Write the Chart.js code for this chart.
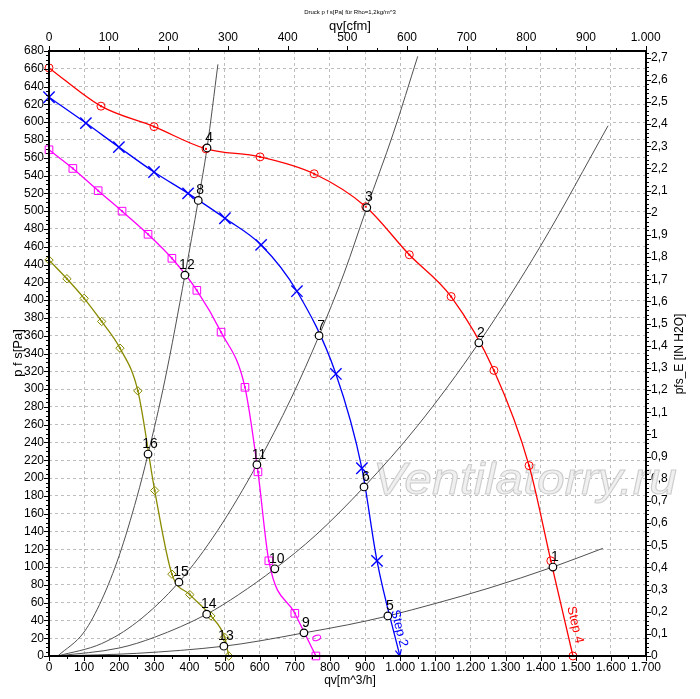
<!DOCTYPE html>
<html><head><meta charset="utf-8">
<script src="https://cdn.jsdelivr.net/npm/chart.js@4.4.1/dist/chart.umd.min.js"></script>
<style>html,body{margin:0;padding:0;background:#fff;overflow:hidden}#wrap{width:700px;height:699px;position:relative}</style>
</head><body><div id="wrap"><canvas id="c"></canvas></div>
<script>
// ---------- texts ----------
const chartTitle = 'Druck p f s[Pa] für Rho=1,2kg/m^3';
const xTitle = 'qv[m^3/h]';
const xTopTitle = 'qv[cfm]';
const yTitle = 'p f s[Pa]';
const yRightTitle = 'pfs_E [IN H2O]';
const watermark = 'Ventilatorry.ru';

// ---------- fan curves (qv m^3/h, p Pa) ----------
const step4Q = [0, 148, 299, 447, 601, 755, 902, 1026, 1145, 1267, 1367, 1429, 1492];
const step4P = [661, 618, 595, 570, 561, 542, 505, 451, 404, 321, 214, 107, 0];
const step2Q = [0, 105, 199, 299, 396, 501, 604, 706, 817, 891, 934, 999];
const step2P = [628, 599, 572, 544, 520, 492, 462, 410, 317, 211, 107, 0];
const step0Q = [0, 68, 140, 208, 282, 350, 421, 490, 558, 595, 626, 700, 760];
const step0P = [569, 548, 523, 500, 474, 447, 411, 364, 302, 207, 107, 48, 0];
const stepMinQ = [0, 51, 100, 150, 202, 253, 301, 350, 401, 461, 500, 512];
const stepMinP = [445, 424, 402, 376, 346, 298, 186, 92, 69, 45, 21, 0];

// ---------- system curves ----------
const sysAQ = [25, 100, 150, 200, 250, 282, 330, 387, 425, 450, 481];
const sysAP = [0, 27, 63, 113, 178, 227, 310, 428, 512, 571, 665];
const sysBQ = [25, 150, 250, 370, 480, 592, 690, 769, 840, 905, 980, 1050];
const sysBP = [0, 14, 38, 83, 141, 215, 290, 360, 430, 504, 587, 674];
const sysCQ = [25, 200, 300, 449, 540, 643, 760, 897, 1050, 1224, 1400, 1592];
const sysCP = [0, 9, 21, 47, 69, 98, 136, 190, 259, 352, 461, 596];
const sysDQ = [25, 250, 498, 600, 726, 850, 965, 1100, 1250, 1435, 1577];
const sysDP = [0, 3, 11, 17, 26, 35, 45, 59, 76, 100, 121];

// ---------- operating points ----------
const opLabels = ['1','2','3','4','5','6','7','8','9','10','11','12','13','14','15','16'];
const opQ = [1435, 1224, 905, 450, 965, 897, 769, 425, 726, 643, 592, 387, 498, 449, 370, 282];
const opP = [100, 352, 504, 571, 45, 190, 360, 512, 26, 98, 215, 428, 11, 47, 83, 227];

// ---------- curve names ----------
const curveNames = ['Step 4', 'Step 2', '0'];
const curveNameQ = [1498, 997, 760];
const curveNameP = [35, 31, 20];

// ---------- axis ranges / ticks ----------
const qMax = 1700, qStep = 100;
const pMax = 680, pStep = 20;
const PA_PER_INH2O = 249.089;
const M3H_PER_CFM = 1.69901;
const inStep = 0.1;
const cfmTicks = [0, 100, 200, 300, 400, 500, 600, 700, 800, 900, 1000];

const FONT = '"Liberation Sans", Arial, sans-serif';
const pts = (q, p) => q.map((v, i) => ({x: v, y: p[i]}));
const fmtK = v => { v = Math.round(v); return v >= 1000 ? Math.floor(v/1000) + '.' + String(v % 1000).padStart(3, '0') : String(v); };
const fmtDec = v => String(Math.round(v * 10) / 10).replace('.', ',');

const RED = '#ff0000', BLUE = '#0000ff', MAG = '#ff00ff', OLIVE = '#8a8a00', SYS = '#505050';

function sysSet(q, p) {
  return {data: pts(q, p), showLine: true, borderColor: SYS, borderWidth: 1, pointRadius: 0,
          cubicInterpolationMode: 'monotone', order: 3};
}
function fanSet(q, p, color, style, r, dot, lastNoMarker) {
  const n = q.length;
  return {data: pts(q, p), showLine: true, borderColor: color, borderWidth: 1.3,
          pointStyle: style, pointBorderColor: color, pointBackgroundColor: 'rgba(255,255,255,0)',
          pointBorderWidth: style === 'crossRot' ? 1.4 : 1,
          pointRadius: c => (lastNoMarker && c.dataIndex === n - 1) ? 0 : r,
          cubicInterpolationMode: 'monotone', order: 2, clip: false, dotCenter: dot};
}

const datasets = [
  {data: pts(opQ, opP), showLine: false, pointStyle: 'circle', pointRadius: 3.8, pointBorderWidth: 1.2,
   pointBorderColor: '#000', pointBackgroundColor: '#fff', order: 0, clip: false, opPoints: true},
  fanSet(step4Q, step4P, RED, 'circle', 4, true, false),
  fanSet(step2Q, step2P, BLUE, 'crossRot', 8, false, true),
  fanSet(step0Q, step0P, MAG, 'rect', 5.4, true, false),
  fanSet(stepMinQ, stepMinP, OLIVE, 'rectRot', 4.2, true, false),
  sysSet(sysAQ, sysAP), sysSet(sysBQ, sysBP), sysSet(sysCQ, sysCP), sysSet(sysDQ, sysDP)
];
datasets[2].arrowEnd = true;

function line(ctx, x1, y1, x2, y2) { ctx.beginPath(); ctx.moveTo(x1, y1); ctx.lineTo(x2, y2); ctx.stroke(); }

const deco = {
  id: 'deco',
  beforeDraw(chart) {
    const ctx = chart.ctx; ctx.save(); ctx.fillStyle = '#fff'; ctx.fillRect(0, 0, chart.width, chart.height); ctx.restore();
  },
  beforeDatasetsDraw(chart) {
    const ctx = chart.ctx; ctx.save();
    ctx.font = 'italic 44px ' + FONT;
    const w = ctx.measureText(watermark).width;
    const s = 304 / w;
    ctx.translate(525, 482); ctx.scale(s, 1);
    ctx.textAlign = 'center'; ctx.textBaseline = 'middle';
    ctx.fillStyle = 'rgba(240,240,240,1)'; ctx.fillText(watermark, 0, 0);
    ctx.strokeStyle = 'rgba(205,205,205,1)'; ctx.lineWidth = 1; ctx.strokeText(watermark, 0, 0);
    ctx.restore();
  },
  afterDatasetsDraw(chart) {
    const ctx = chart.ctx; const xs = chart.scales.x, ys = chart.scales.y;
    ctx.save();
    chart.data.datasets.forEach((ds, i) => {
      const meta = chart.getDatasetMeta(i);
      if (ds.dotCenter) {
        ctx.fillStyle = ds.borderColor;
        meta.data.forEach(p => ctx.fillRect(p.x - 1, p.y - 1, 2, 2));
      }
      if (ds.arrowEnd) {
        const a = meta.data[meta.data.length - 1], b = meta.data[meta.data.length - 2];
        const ang = Math.atan2(a.y - b.y, a.x - b.x);
        ctx.strokeStyle = ds.borderColor; ctx.lineWidth = 1.2;
        [0.45, -0.45].forEach(d => line(ctx, a.x, a.y, a.x - 7 * Math.cos(ang + d), a.y - 7 * Math.sin(ang + d)));
      }
      if (ds.opPoints) {
        ctx.fillStyle = '#000'; ctx.font = '14px ' + FONT; ctx.textAlign = 'center'; ctx.textBaseline = 'middle';
        meta.data.forEach((p, k) => ctx.fillText(opLabels[k], p.x + 2, p.y - 10));
      }
    });
    const cols = [RED, BLUE, MAG];
    const rots = [77, 76, 70];
    curveNames.forEach((t, i) => {
      ctx.save();
      ctx.translate(xs.getPixelForValue(curveNameQ[i]), ys.getPixelForValue(curveNameP[i]));
      ctx.rotate(rots[i] * Math.PI / 180);
      ctx.fillStyle = cols[i]; ctx.font = '13px ' + FONT; ctx.textAlign = 'center'; ctx.textBaseline = 'middle';
      ctx.fillText(t, 0, 0);
      ctx.restore();
    });
    ctx.restore();
  },
  afterDraw(chart) {
    const ctx = chart.ctx, a = chart.chartArea;
    const xs = chart.scales.x, ys = chart.scales.y, x2 = chart.scales.x2, y2 = chart.scales.y2;
    ctx.save();
    ctx.strokeStyle = '#000'; ctx.lineWidth = 1;
    for (let i = 0; i * 5 <= pMax; i++) {
      const y = Math.round(ys.getPixelForValue(i * 5)) + 0.5; line(ctx, a.left - (i % 4 === 0 ? 5 : 3), y, a.left, y);
    }
    for (let i = 0; i * 0.02 <= pMax / PA_PER_INH2O; i++) {
      const y = Math.round(y2.getPixelForValue(i * 0.02)) + 0.5; line(ctx, a.right, y, a.right + (i % 5 === 0 ? 5 : 3), y);
    }
    for (let i = 0; i * 50 <= qMax; i++) {
      const x = Math.round(xs.getPixelForValue(i * 50)) + 0.5; line(ctx, x, a.bottom, x, a.bottom + (i % 2 === 0 ? 5 : 3));
    }
    for (let i = 0; i * 50 <= qMax / M3H_PER_CFM; i++) {
      const x = Math.round(x2.getPixelForValue(i * 50)) + 0.5; line(ctx, x, a.top, x, a.top - (i % 2 === 0 ? 5 : 3));
    }
    ctx.lineWidth = 2;
    line(ctx, a.left - 1, a.top, a.right + 1, a.top);
    line(ctx, a.left - 1, a.bottom, a.right + 1, a.bottom);
    line(ctx, a.left, a.top, a.left, a.bottom);
    line(ctx, a.right, a.top, a.right, a.bottom);
    ctx.fillStyle = '#000'; ctx.textAlign = 'center'; ctx.textBaseline = 'middle';
    ctx.font = '6px ' + FONT; ctx.fillText(chartTitle, 350, 12);
    ctx.font = '13px ' + FONT; ctx.fillText(xTopTitle, 350, 26);
    ctx.font = '12px ' + FONT; ctx.fillText(xTitle, 350, 681);
    ctx.save(); ctx.translate(18, 353); ctx.rotate(-Math.PI / 2); ctx.font = '13px ' + FONT; ctx.fillText(yTitle, 0, 0); ctx.restore();
    ctx.save(); ctx.translate(680, 354); ctx.rotate(-Math.PI / 2); ctx.font = '12px ' + FONT; ctx.fillText(yRightTitle, 0, 0); ctx.restore();
    ctx.restore();
  }
};

const tickFont = {family: FONT, size: 12};
new Chart(document.getElementById('c'), {
  type: 'scatter',
  data: {datasets},
  plugins: [deco],
  options: {
    responsive: true, maintainAspectRatio: false, animation: false, events: [],
    layout: {padding: 0},
    plugins: {legend: {display: false}, tooltip: {enabled: false}, title: {display: false}},
    scales: {
      x: {type: 'linear', position: 'bottom', min: 0, max: qMax, afterFit: s => { s.height = 43; },
          ticks: {stepSize: qStep, padding: 4, maxRotation: 0, autoSkip: false, includeBounds: false, color: '#000', font: tickFont, callback: fmtK},
          grid: {color: '#bdbdbd', lineWidth: 1, drawTicks: false}, border: {display: false, dash: [3, 3]}},
      x2: {type: 'linear', position: 'top', min: 0, max: qMax / M3H_PER_CFM, afterFit: s => { s.height = 51; },
          afterBuildTicks: s => { s.ticks = cfmTicks.map(v => ({value: v})); },
          ticks: {padding: 6, maxRotation: 0, autoSkip: false, color: '#000', font: tickFont, callback: fmtK},
          grid: {display: false, drawTicks: false}, border: {display: false}},
      y: {type: 'linear', position: 'left', min: 0, max: pMax, afterFit: s => { s.width = 49; },
          ticks: {stepSize: pStep, padding: 5, autoSkip: false, includeBounds: false, color: '#000', font: tickFont},
          grid: {color: '#bdbdbd', lineWidth: 1, drawTicks: false}, border: {display: false, dash: [3, 3]}},
      y2: {type: 'linear', position: 'right', min: 0, max: pMax / PA_PER_INH2O, afterFit: s => { s.width = 54; },
          ticks: {stepSize: inStep, padding: 5, autoSkip: false, includeBounds: false, color: '#000', font: tickFont, callback: fmtDec},
          grid: {display: false, drawTicks: false}, border: {display: false}}
    }
  }
});
</script>
</body></html>
